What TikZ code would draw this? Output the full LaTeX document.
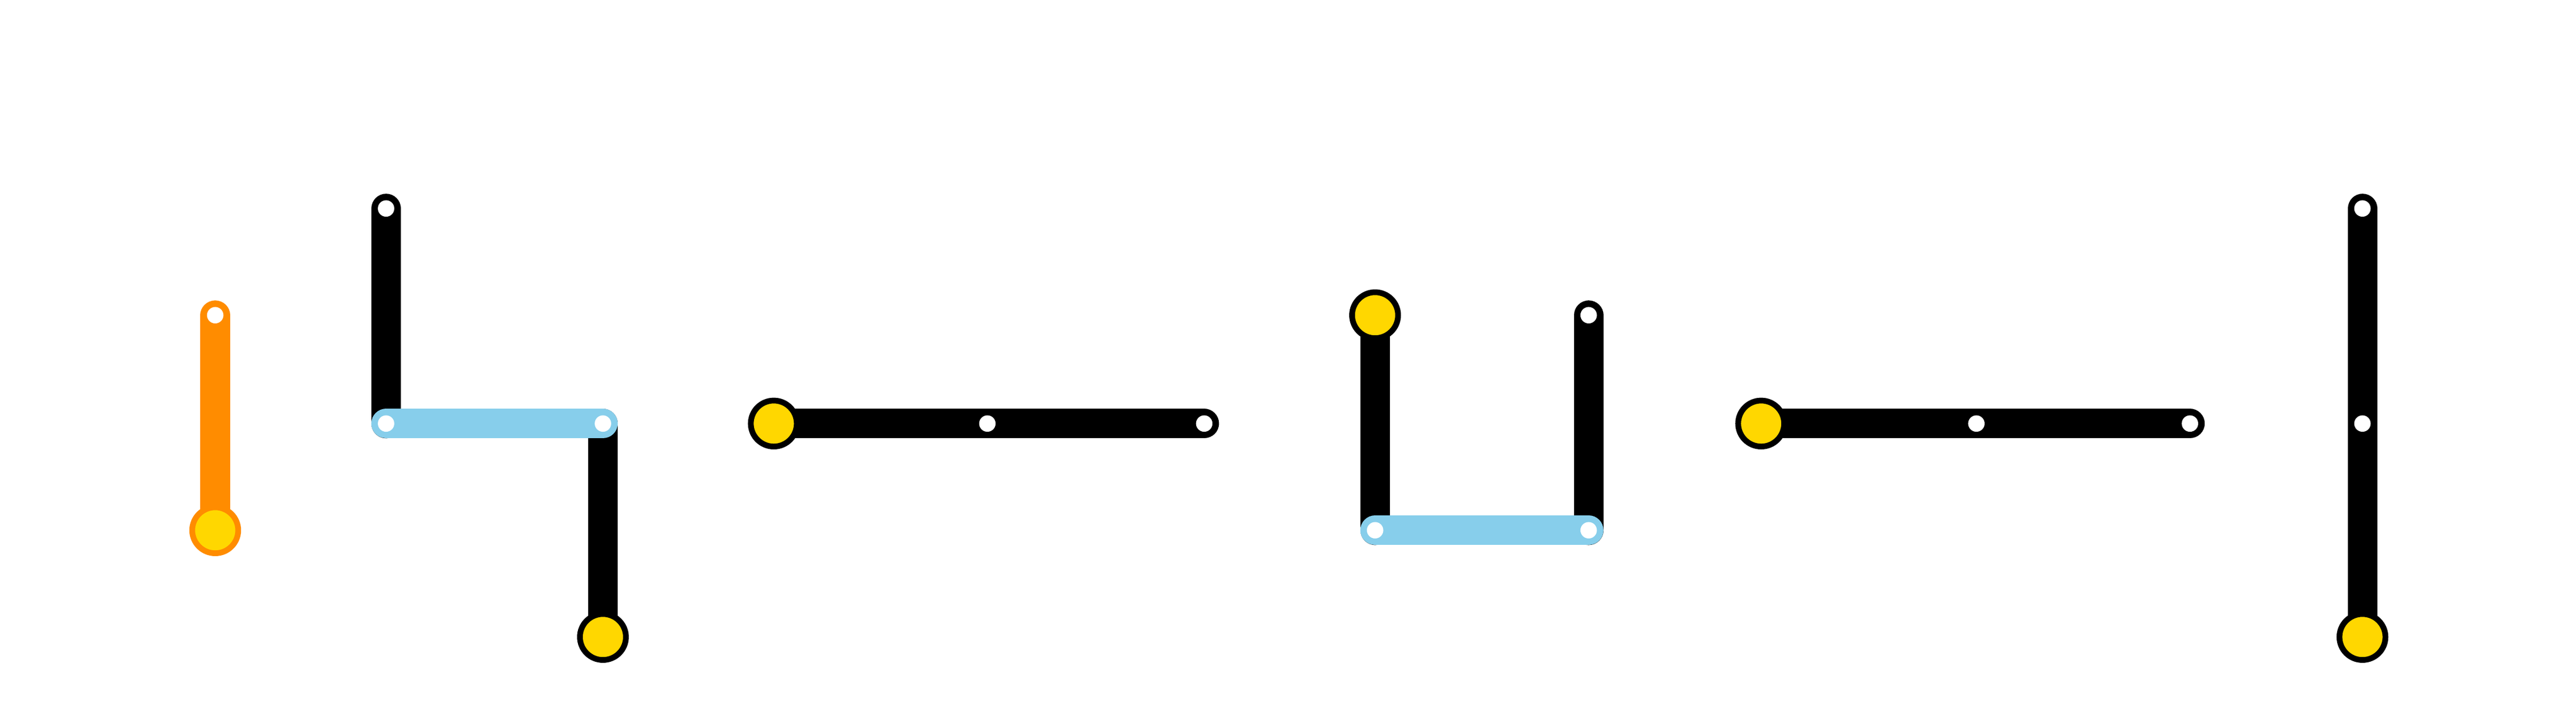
\documentclass[tikz,border=0pt]{standalone}
\definecolor{lorange}{HTML}{FF8C00}
\definecolor{lblue}{HTML}{87CEEB}
\definecolor{lyellow}{HTML}{FFD700}
\begin{document}
\begin{tikzpicture}[x=1pt,y=-1pt,
  seg/.style={line width=18pt,line cap=round},
  small/.style={circle,fill=white,inner sep=0pt,minimum size=10pt},
  big/.style={circle,fill=lyellow,draw=black,line width=3.5pt,inner sep=0pt,minimum size=28pt}]
\useasboundingbox[fill=white] (0,0) rectangle (1568,427.3);
% coordinates
\coordinate (a1) at (131,192); \coordinate (a2) at (131,323);
\coordinate (b1) at (235,127); \coordinate (b2) at (235,258); \coordinate (b3) at (367,258); \coordinate (b4) at (367,388);
\coordinate (c1) at (471,258); \coordinate (c2) at (601,258); \coordinate (c3) at (733,258);
\coordinate (d1) at (837,192); \coordinate (d2) at (837,323); \coordinate (d3) at (967,323); \coordinate (d4) at (967,192);
\coordinate (e1) at (1072,258); \coordinate (e2) at (1203,258); \coordinate (e3) at (1333,258);
\coordinate (f1) at (1438,127); \coordinate (f2) at (1438,258); \coordinate (f3) at (1438,388);
% lines
\draw[seg,lorange] (a1) -- (a2);
\draw[seg] (b1) -- (b2); \draw[seg] (b3) -- (b4);
\draw[seg,lblue] (b2) -- (b3);
\draw[seg] (c1) -- (c3);
\draw[seg] (d1) -- (d2); \draw[seg] (d4) -- (d3);
\draw[seg,lblue] (d2) -- (d3);
\draw[seg] (e1) -- (e3);
\draw[seg] (f1) -- (f3);
% stations
\node[small] (sa1) at (a1) {};
\node[big,draw=lorange] (sa2) at (a2) {};
\node[small] (sb1) at (b1) {}; \node[small] (sb2) at (b2) {}; \node[small] (sb3) at (b3) {};
\node[big] (sb4) at (b4) {};
\node[big] (sc1) at (c1) {}; \node[small] (sc2) at (c2) {}; \node[small] (sc3) at (c3) {};
\node[big] (sd1) at (d1) {}; \node[small] (sd2) at (d2) {}; \node[small] (sd3) at (d3) {}; \node[small] (sd4) at (d4) {};
\node[big] (se1) at (e1) {}; \node[small] (se2) at (e2) {}; \node[small] (se3) at (e3) {};
\node[small] (sf1) at (f1) {}; \node[small] (sf2) at (f2) {}; \node[big] (sf3) at (f3) {};
\end{tikzpicture}
\end{document}
